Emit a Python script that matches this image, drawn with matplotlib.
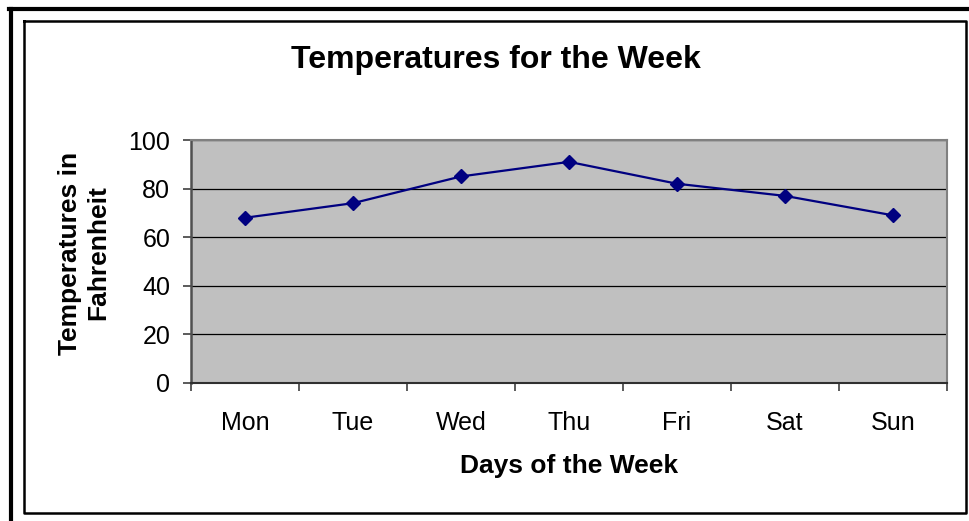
import matplotlib
matplotlib.use("Agg")
import matplotlib.pyplot as plt
from matplotlib.lines import Line2D

days = ["Mon", "Tue", "Wed", "Thu", "Fri", "Sat", "Sun"]
temps = [68, 74, 85, 91, 82, 77, 69]
yticks = [0, 20, 40, 60, 80, 100]

plt.rcParams['font.family'] = ['Liberation Sans', 'DejaVu Sans']

W, H = 969, 521
fig = plt.figure(figsize=(W / 100, H / 100), dpi=100)
fig.patch.set_facecolor('white')

def fx(px):
    return px / W

def fy(py):
    return 1 - py / H

# borders
fig.add_artist(Line2D([fx(11), fx(11)], [fy(9), fy(530)], color='black', lw=3, transform=fig.transFigure))
fig.add_artist(Line2D([fx(9), fx(980)], [fy(9), fy(9)], color='black', lw=3, transform=fig.transFigure))
fig.add_artist(Line2D([fx(23.5), fx(966), fx(966), fx(23.5), fx(23.5)],
                      [fy(21), fy(21), fy(513), fy(513), fy(21)],
                      color='black', lw=1.8, transform=fig.transFigure))

ax = fig.add_axes([fx(191), fy(383), fx(947) - fx(191), fy(140) - fy(383)])
ax.set_facecolor('#C0C0C0')

x = list(range(len(days)))
ax.plot(x, temps, color='#000080', lw=1.6, marker='D', ms=7, mfc='#000080', mec='#000080', zorder=3)

ax.set_xlim(-0.5, len(days) - 0.5)
ax.set_ylim(0, 100)
ax.set_yticks(yticks)
ax.set_yticklabels([str(v) for v in yticks], fontsize=18)
ax.yaxis.grid(True, color='black', lw=0.9)
ax.set_axisbelow(True)

ax.set_xticks([i - 0.5 for i in range(len(days) + 1)])
ax.set_xticklabels([''] * (len(days) + 1))
ax.set_xticks(x, minor=True)
ax.set_xticklabels(days, minor=True, fontsize=18)
ax.tick_params(axis='x', which='major', length=6, width=1.2, color='#404040', direction='out')
ax.tick_params(axis='x', which='minor', length=0, pad=20)
ax.tick_params(axis='y', length=6, width=1.2, color='#404040', direction='out', pad=9)

for s in ['top', 'right']:
    ax.spines[s].set_color('#808080')
    ax.spines[s].set_linewidth(1.5)
ax.spines['left'].set_color('#505050')
ax.spines['left'].set_linewidth(1.8)
ax.spines['bottom'].set_color('#303030')
ax.spines['bottom'].set_linewidth(1.5)

fig.text(fx(496), fy(60), "Temperatures for the Week", ha='center', va='center',
         fontsize=23, fontweight='bold')
fig.text(fx(569), fy(466), "Days of the Week", ha='center', va='center',
         fontsize=19, fontweight='bold')
fig.text(fx(84), fy(253), "Temperatures in\nFahrenheit", ha='center', va='center',
         rotation=90, fontsize=19, fontweight='bold', linespacing=1.2)

fig.savefig("out.png", dpi=100, facecolor='white')
